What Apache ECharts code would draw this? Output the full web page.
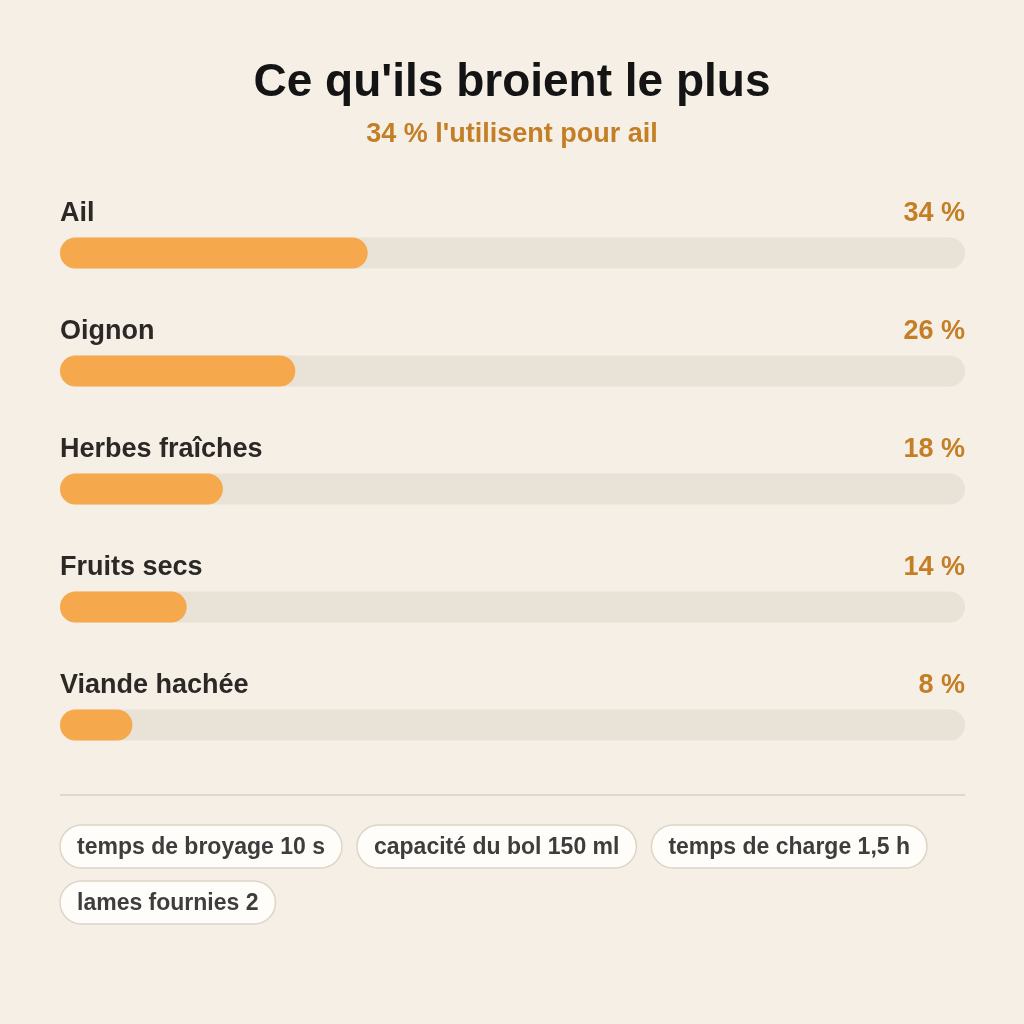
<!DOCTYPE html>
<html>
<head>
<meta charset="utf-8">
<script src="https://cdn.jsdelivr.net/npm/echarts@6/dist/echarts.min.js"></script>
<style>
html,body{margin:0;padding:0;background:#f5efe6;}
#c{width:1024px;height:1024px;}
</style>
</head>
<body>
<div id="c"></div>
<script>
const titleText = "Ce qu'ils broient le plus";
const subtitleText = "34 % l'utilisent pour ail";
const categories = ["Ail", "Oignon", "Herbes fraîches", "Fruits secs", "Viande hachée"];
const values = [34, 26, 18, 14, 8];
const maxValue = 100;
const chips = ["temps de broyage 10 s", "capacité du bol 150 ml", "temps de charge 1,5 h", "lames fournies 2"];

const FONT = '"Liberation Sans", Arial, sans-serif';
const chart = echarts.init(document.getElementById('c'), null, {renderer: 'canvas'});

// layout chips by measuring text
const cv = document.createElement('canvas').getContext('2d');
const chipFont = 'bold 23px ' + FONT;
cv.font = chipFont;
const chipGraphics = [];
let cx = 60, cy = 825;
const padX = 16, chipH = 43, gap = 15, rowGap = 13, rightEdge = 965;
chips.forEach(t => {
  const w = cv.measureText(t).width + padX * 2 + 2;
  if (cx + w > rightEdge && cx > 60) { cx = 60; cy += chipH + rowGap; }
  chipGraphics.push({
    type: 'rect',
    shape: {x: cx, y: cy, width: w, height: chipH, r: chipH / 2},
    style: {fill: '#fffdf9', stroke: '#ddd5c6', lineWidth: 1.5}
  });
  chipGraphics.push({
    type: 'text', x: cx + w / 2, y: cy + chipH / 2 + 1,
    style: {text: t, font: chipFont, fill: '#3d3d3d', align: 'center', verticalAlign: 'middle'}
  });
  cx += w + gap;
});

const option = {
  backgroundColor: '#f5efe6',
  animation: false,
  title: {
    text: titleText,
    subtext: subtitleText,
    left: 'center',
    top: 55,
    itemGap: 15,
    textStyle: {fontFamily: FONT, fontSize: 46, fontWeight: 'bold', color: '#141414'},
    subtextStyle: {fontFamily: FONT, fontSize: 27, fontWeight: 'bold', color: '#c47f26'}
  },
  grid: {left: 60, right: 59, top: 194, height: 590, containLabel: false},
  xAxis: {type: 'value', min: 0, max: maxValue, show: false},
  yAxis: {type: 'category', data: categories, inverse: true, show: false},
  series: [
    {
      type: 'bar',
      stack: 's',
      data: values,
      barWidth: 31,
      showBackground: true,
      backgroundStyle: {color: '#e9e2d7', borderRadius: 15.5},
      itemStyle: {color: '#f5a94c', borderRadius: 15.5},
      label: {
        show: true,
        position: [0, -24],
        align: 'left',
        verticalAlign: 'middle',
        formatter: p => p.name,
        fontFamily: FONT, fontSize: 27, fontWeight: 'bold', color: '#2b2825'
      }
    },
    {
      type: 'bar',
      stack: 's',
      data: values.map(v => maxValue - v),
      barWidth: 31,
      itemStyle: {color: 'rgba(0,0,0,0)'},
      label: {
        show: true,
        position: ['100%', -24],
        align: 'right',
        verticalAlign: 'middle',
        formatter: p => values[p.dataIndex] + ' %',
        fontFamily: FONT, fontSize: 27, fontWeight: 'bold', color: '#c47f26'
      }
    }
  ],
  graphic: [
    {type: 'line', shape: {x1: 60, y1: 795, x2: 965, y2: 795}, style: {stroke: '#e0d8cb', lineWidth: 2}}
  ].concat(chipGraphics)
};
chart.setOption(option);
</script>
</body>
</html>
